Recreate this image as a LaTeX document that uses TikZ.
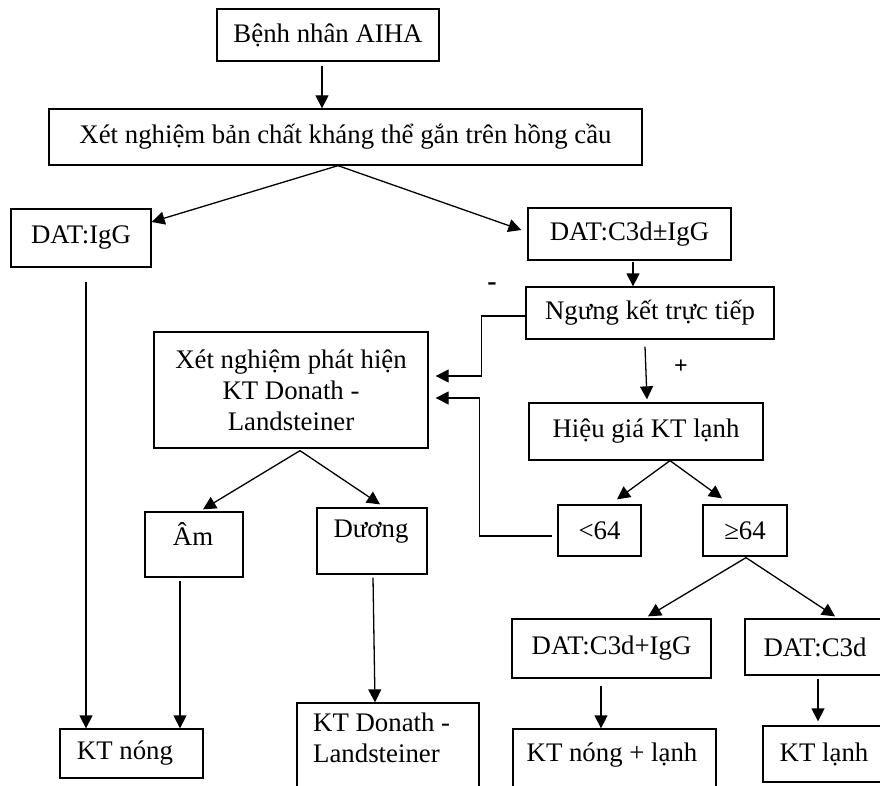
\documentclass[tikz,border=0pt]{standalone}
\usepackage{fontspec}
\setmainfont{Liberation Serif}
\usetikzlibrary{arrows.meta,calc}
\begin{document}
\begin{tikzpicture}[x=1pt,y=-1pt,
  font=\fontsize{26.8pt}{31pt}\selectfont,
  box/.style={draw, line width=1.3pt, rectangle, inner sep=0pt, align=center},
  txt/.style={inner sep=0pt, align=center},
  arr/.style={line width=1.3pt, -{Triangle[length=13pt,width=13pt]}},
  sign/.style={inner sep=0pt, font=\fontsize{28pt}{30pt}\selectfont\bfseries}]
\useasboundingbox (0,0) rectangle (880,786);
\clip (0,0) rectangle (880,786);
% boxes
\node[box, minimum width=222pt, minimum height=52pt] (b1) at (328,35) {Bệnh nhân AIHA};
\node[box, minimum width=593pt, minimum height=56pt] (b2) at (345.5,137) {Xét nghiệm bản chất kháng thể gắn trên hồng cầu};
\node[box, minimum width=140pt, minimum height=58pt] (datigg) at (81,238) {DAT:IgG};
\node[box, minimum width=203pt, minimum height=52pt] (datc3) at (629.5,234) {DAT:C3d±IgG};
\node[box, minimum width=248pt, minimum height=52pt] (ngung) at (650,313) {Ngưng kết trực tiếp};
\node[box, minimum width=274pt, minimum height=116pt] (xnph) at (291,390) {Xét nghiệm phát hiện\\KT Donath -\\Landsteiner};
\node[box, minimum width=234pt, minimum height=57pt] (hieu) at (646,431.5) {Hiệu giá KT lạnh};
\node[box, minimum width=83pt, minimum height=51pt] (lt64) at (599.5,530.5) {<64};
\node[box, minimum width=84pt, minimum height=51pt] (ge64) at (745,530.5) {≥64};
\node[box, minimum width=98pt, minimum height=65pt] (am) at (194,544.5) {};
\node[txt] (amt) at (193,534) {Âm};
\node[box, minimum width=110pt, minimum height=66pt] (duong) at (372,541) {};
\node[txt] (duongt) at (371,532) {Dương};
\node[box, minimum width=199pt, minimum height=59pt] (datc3igg) at (611.5,648.5) {DAT:C3d+IgG};
\node[box, minimum width=140pt, minimum height=56pt] (datc3d) at (815,647) {DAT:C3d};
\node[box, minimum width=143pt, minimum height=49pt] (ktnong) at (131.5,753.5) {};
\node[txt] (ktnongt) at (125,753) {KT nóng};
\node[box, minimum width=182pt, minimum height=100pt] (ktdl) at (388,753) {};
\node[txt, anchor=north west, align=left] (ktdlt) at (313,713) {KT Donath -\\Landsteiner};
\node[box, minimum width=203pt, minimum height=80pt] (ktnl) at (614.5,769) {};
\node[txt] (ktnlt) at (612,755) {KT nóng + lạnh};
\node[box, minimum width=122pt, minimum height=56pt] (ktlanh) at (824,754) {KT lạnh};
% signs
\node[sign] (minus) at (492,287) {-};
\node[sign, font=\fontsize{24pt}{26pt}\selectfont\bfseries] (plus) at (681,367) {+};
% connectors
\draw[arr] ($(b1.south)+(-6,4)$) -- ($(b2.north)+(-23.5,0)$);
\draw[arr] ($(b2.south)+(-7.5,0)$) -- ($(datigg.east)+(0,-16)$);
\draw[arr] ($(b2.south)+(-7.5,0)$) -- ($(datc3.west)+(-6,-4)$);
\draw[arr] ($(datc3.south)+(3.5,1)$) -- ($(ngung.north)+(-17,0)$);
\draw[arr] ($(ngung.west)+(0,3)$) -| ($(xnph.east)+(53,-14)$) -- ($(xnph.east)+(7,-14)$);
\draw[arr] ($(ngung.south)+(-5,7)$) -- ($(hieu.north)+(1,-3)$);
\draw[arr] ($(hieu.south)+(24,0)$) -- ($(lt64.north)+(17.5,-5)$);
\draw[arr] ($(hieu.south)+(24,0)$) -- ($(ge64.north)+(-23,-6)$);
\draw[arr] ($(lt64.west)+(-5,5.5)$) -| ($(xnph.east)+(51,8)$) -- ($(xnph.east)+(7,8)$);
\draw[arr] ($(ge64.south)+(1,1)$) -- ($(datc3igg.north)+(36.5,-2)$);
\draw[arr] ($(ge64.south)+(1,1)$) -- ($(datc3d.north)+(20,-2)$);
\draw[arr] ($(datc3igg.south)+(-10.5,7)$) -- ($(ktnl.north)+(-13.5,0)$);
\draw[arr] ($(datc3d.south)+(3,3)$) -- ($(ktlanh.north)+(-6,-4)$);
\draw[arr] ($(datigg.south)+(5,14)$) -- ($(ktnong.north)+(-45.5,0)$);
\draw[arr] ($(xnph.south)+(9,2)$) -- ($(am.north)+(9,-2)$);
\draw[arr] ($(xnph.south)+(9,2)$) -- ($(duong.north)+(8,-3)$);
\draw[arr] ($(am.south)+(-14,3)$) -- ($(ktnong.north)+(48.5,0)$);
\draw[arr] ($(duong.south)+(1,3)$) -- ($(ktdl.north)+(-13,0)$);
\end{tikzpicture}
\end{document}
